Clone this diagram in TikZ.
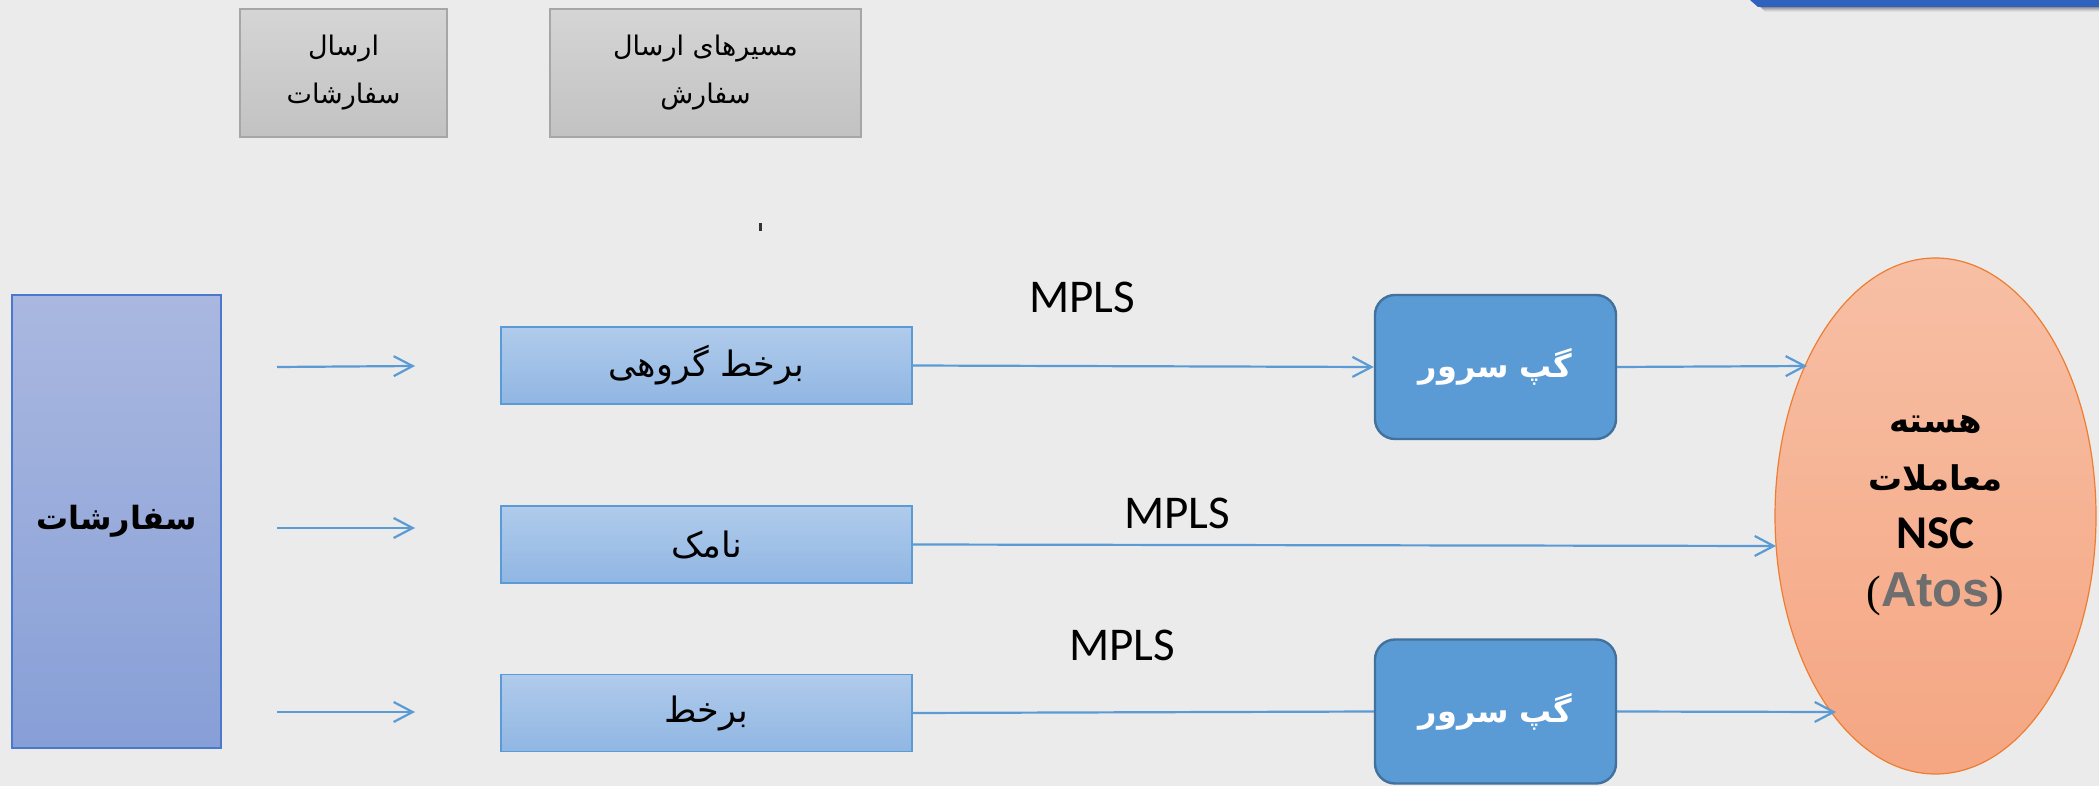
\documentclass[tikz,border=0pt]{standalone}
\usepackage{fontspec}
\usetikzlibrary{arrows.meta,shapes.geometric}
\TeXXeTstate=1
\newfontfamily\fa[Script=Arabic]{DejaVu Sans}
\newfontfamily\calfont{Carlito}
\newfontfamily\arialfont{Liberation Sans}
\newfontfamily\seriffont{Liberation Serif}

\definecolor{bg}{HTML}{EBEBEB}
\definecolor{flow}{HTML}{5B9BD5}
\definecolor{greytop}{HTML}{D5D5D5}
\definecolor{greybot}{HTML}{C2C2C2}
\definecolor{greyedge}{HTML}{A6A6A6}
\definecolor{srctop}{HTML}{AAB8E0}
\definecolor{srcbot}{HTML}{879FD7}
\definecolor{srcedge}{HTML}{4A78CC}
\definecolor{routetop}{HTML}{B0CBEB}
\definecolor{routebot}{HTML}{90B6E3}
\definecolor{gapfill}{HTML}{5B9BD5}
\definecolor{gapedge}{HTML}{41719C}
\definecolor{coretop}{HTML}{F7BFA5}
\definecolor{corebot}{HTML}{F5A682}
\definecolor{coreedge}{HTML}{ED7D31}
\definecolor{atosgrey}{HTML}{6E6E6E}
\definecolor{banner}{HTML}{2F62BE}

\begin{document}
\begin{tikzpicture}[x=0.5pt,y=-0.5pt,
  headbox/.style={draw=greyedge, line width=0.75pt, top color=greytop, bottom color=greybot,
    inner sep=0pt, align=center, minimum height=64pt,
    font=\fa\fontsize{13.5}{24}\selectfont},
  srcbox/.style={draw=srcedge, line width=0.75pt, top color=srctop, bottom color=srcbot,
    inner sep=0pt, font=\fa\bfseries\fontsize{16}{30}\selectfont},
  routebox/.style={draw=flow, line width=0.75pt, top color=routetop, bottom color=routebot,
    inner sep=0pt, minimum width=205.5pt, minimum height=38.5pt,
    font=\fa\fontsize{17.5}{20}\selectfont},
  gapbox/.style={draw=gapedge, line width=1.2pt, fill=gapfill, rounded corners=10pt,
    inner sep=0pt, minimum width=120.5pt, minimum height=72pt, text=white,
    font=\fa\bfseries\fontsize{16}{28}\selectfont},
  corenode/.style={ellipse, draw=coreedge, line width=0.6pt, top color=coretop, bottom color=corebot,
    inner sep=0pt, minimum width=160.5pt, minimum height=258pt, align=center,
    font=\fa\bfseries\fontsize{17}{29}\selectfont},
  linklabel/.style={inner sep=0pt, font=\calfont\fontsize{23.5}{28}\selectfont},
  flowline/.style={draw=flow, line width=1.1pt},
  flowarrow/.style={flowline, -{Straight Barb[length=9.5pt,width=10pt,line width=1.1pt]}}
]
\useasboundingbox (0,0) rectangle (2099,786);
\fill[bg] (0,0) rectangle (2099,786);

% banner strip in the top right corner, with its soft shadow
\foreach \d/\o in {5/0.05,4/0.07,3/0.09,2/0.11,1/0.14}{
  \fill[black,opacity=\o] (1752+\d,0) -- (2099,0) -- (2099,7+\d) -- (1760+\d,7+\d) -- cycle;
}
\fill[banner] (1750,0) -- (2099,0) -- (2099,7) -- (1758,7) -- cycle;

% stray tick mark
\fill[black!80] (759,223) rectangle (762,231);

% column headers
\node[headbox, minimum width=103.5pt] (hdrsend) at (343.5,73)
  {\beginR ارسال\endR\\\beginR سفارشات\endR};
\node[headbox, minimum width=155.5pt] (hdrroute) at (705.5,73)
  {\beginR مسیرهای ارسال\endR\\\beginR سفارش\endR};

% order source
\node[srcbox, minimum width=104.5pt, minimum height=226.5pt] (orders) at (116.5,521.5)
  {\beginR سفارشات\endR};

% routes
\node[routebox] (route1) at (706.5,365.5) {\beginR برخط گروهی\endR};
\node[routebox] (route2) at (706.5,544.5) {\beginR نامک\endR};
\node[routebox] (route3) at (706.5,713) {\beginR برخط\endR};

% gateway servers
\node[gapbox] (gap1) at (1495.5,367) {\beginR گپ سرور\endR};
\node[gapbox] (gap2) at (1495.5,711.5) {\beginR گپ سرور\endR};

% trading core
\node[corenode] (core) at (1935.5,516)
  {\beginR هسته\endR\\
   \beginR معاملات\endR\\
   {\calfont\bfseries\fontsize{23.5}{29}\selectfont NSC}\\
   {\seriffont\mdseries\fontsize{22}{29}\selectfont (}{\arialfont\bfseries\fontsize{24.5}{29}\selectfont\color{atosgrey}Atos}{\seriffont\mdseries\fontsize{22}{29}\selectfont )}};

% link labels
\node[linklabel] (mpls1) at (1082,297) {MPLS};
\node[linklabel] (mpls2) at (1177,513) {MPLS};
\node[linklabel] (mpls3) at (1122,645) {MPLS};

% free-standing input arrows
\coordinate (in1a) at (277,367); \coordinate (in1b) at (415,366);
\coordinate (in2a) at (277,528); \coordinate (in2b) at (415,528);
\coordinate (in3a) at (277,712); \coordinate (in3b) at (415,712);
\draw[flowarrow] (in1a) -- (in1b);
\draw[flowarrow] (in2a) -- (in2b);
\draw[flowarrow] (in3a) -- (in3b);

% points where the links meet the core
\coordinate (hitA) at (1807,366);
\coordinate (hitB) at (1776,546);
\coordinate (hitC) at (1836,712);

\draw[flowarrow] (route1.east) -- (gap1.west);
\draw[flowarrow] (gap1.east) -- (hitA);
\draw[flowarrow] (route2.east) -- (hitB);
\draw[flowline] (route3.east) -- (gap2.west);
\draw[flowarrow] (gap2.east) -- (hitC);
\end{tikzpicture}
\end{document}
